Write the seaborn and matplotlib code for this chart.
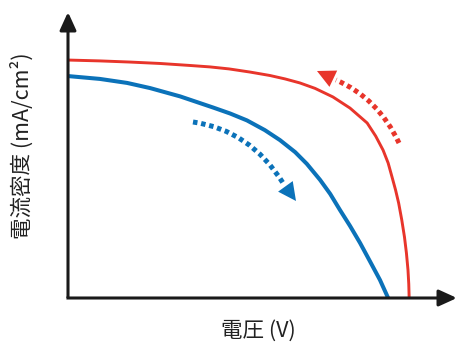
import numpy as np
import pandas as pd
import matplotlib
matplotlib.use("Agg")
import matplotlib.pyplot as plt
from matplotlib.path import Path
from matplotlib.patches import PathPatch
import seaborn as sns

# J-V curves (normalised voltage, normalised current density)
voltage_red = [0.000, 0.082, 0.159, 0.237, 0.314, 0.365, 0.414, 0.468, 0.519, 0.558,
               0.596, 0.635, 0.681, 0.725, 0.769, 0.791, 0.810, 0.823, 0.833, 0.842,
               0.850, 0.858, 0.865, 0.870, 0.874, 0.876, 0.877]
current_red = [0.832, 0.829, 0.825, 0.820, 0.813, 0.808, 0.801, 0.790, 0.778, 0.766,
               0.752, 0.733, 0.703, 0.664, 0.612, 0.566, 0.517, 0.472, 0.423, 0.378,
               0.332, 0.273, 0.213, 0.157, 0.098, 0.049, 0.000]

voltage_blue = [0.000, 0.082, 0.152, 0.211, 0.288, 0.373, 0.417, 0.460, 0.506, 0.545,
                0.584, 0.614, 0.648, 0.674, 0.699, 0.725, 0.751, 0.776, 0.802, 0.823]
current_blue = [0.776, 0.766, 0.752, 0.734, 0.705, 0.666, 0.645, 0.621, 0.587, 0.552,
                0.510, 0.469, 0.413, 0.364, 0.308, 0.252, 0.192, 0.129, 0.063, 0.000]

x_label = "電圧 (V)"
y_label = "電流密度 (mA/cm²)"

RED = "#E8352B"
BLUE = "#0B72B9"
AXIS = "#1A1A1A"

sns.set_theme(style="white")
plt.rcParams["font.family"] = ["Noto Sans CJK JP", "DejaVu Sans"]

W, H = 459, 344
fig = plt.figure(figsize=(W / 100, H / 100), dpi=100)
ax = fig.add_axes([68 / W, 46 / H, 389 / W, 286 / H])
ax.set_xlim(0, 1)
ax.set_ylim(0, 1)

df_red = pd.DataFrame({"V": voltage_red, "J": current_red})
df_blue = pd.DataFrame({"V": voltage_blue, "J": current_blue})
sns.lineplot(data=df_red, x="V", y="J", sort=False, color=RED, lw=2.1,
             solid_joinstyle="round", ax=ax)
sns.lineplot(data=df_blue, x="V", y="J", sort=False, color=BLUE, lw=2.9,
             solid_joinstyle="round", ax=ax)

for s in ax.spines.values():
    s.set_visible(False)
ax.set_xticks([])
ax.set_yticks([])
ax.set_xlabel("")
ax.set_ylabel("")


def px(x, y):
    """pixel position -> data coordinates of the plot area"""
    return ((x - 68) / 389, (298 - y) / 286)


# axes drawn as arrows
arrow_kw = dict(arrowstyle="-|>,head_length=1.1,head_width=0.5", mutation_scale=10,
                color=AXIS, lw=2.2, shrinkA=0, shrinkB=0, capstyle="butt")
ax.annotate("", xy=(0, 1.0), xytext=(0, 0), xycoords="data",
            arrowprops=arrow_kw, annotation_clip=False)
ax.annotate("", xy=(1.0, 0), xytext=(-0.004, 0), xycoords="data",
            arrowprops=arrow_kw, annotation_clip=False)


def dotted_arrow(p0, pc, p1, tip, color):
    verts = [px(*p0), px(*pc), px(*p1)]
    path = Path(verts, [Path.MOVETO, Path.CURVE3, Path.CURVE3])
    ax.add_patch(PathPatch(path, fill=False, edgecolor=color, lw=3.6,
                           linestyle=(0, (0.9, 0.75)), capstyle="butt"))
    ax.annotate("", xy=px(*tip), xytext=px(*p1),
                arrowprops=dict(arrowstyle="-|>,head_length=1.3,head_width=0.65",
                                mutation_scale=10, color=color, lw=0,
                                shrinkA=0, shrinkB=0),
                annotation_clip=False)


# sweep direction markers
dotted_arrow((399, 143), (378, 98), (336, 80), (317, 71), RED)
dotted_arrow((193, 122), (250, 130), (283, 183), (296, 201), BLUE)

fig.text(258 / W, 1 - 331 / H, x_label, ha="center", va="center",
         fontsize=15.5, color="#222222")
fig.text(22 / W, 1 - 146 / H, y_label, ha="center", va="center",
         rotation=90, fontsize=15.5, color="#222222")

fig.savefig("out.png", dpi=100)
